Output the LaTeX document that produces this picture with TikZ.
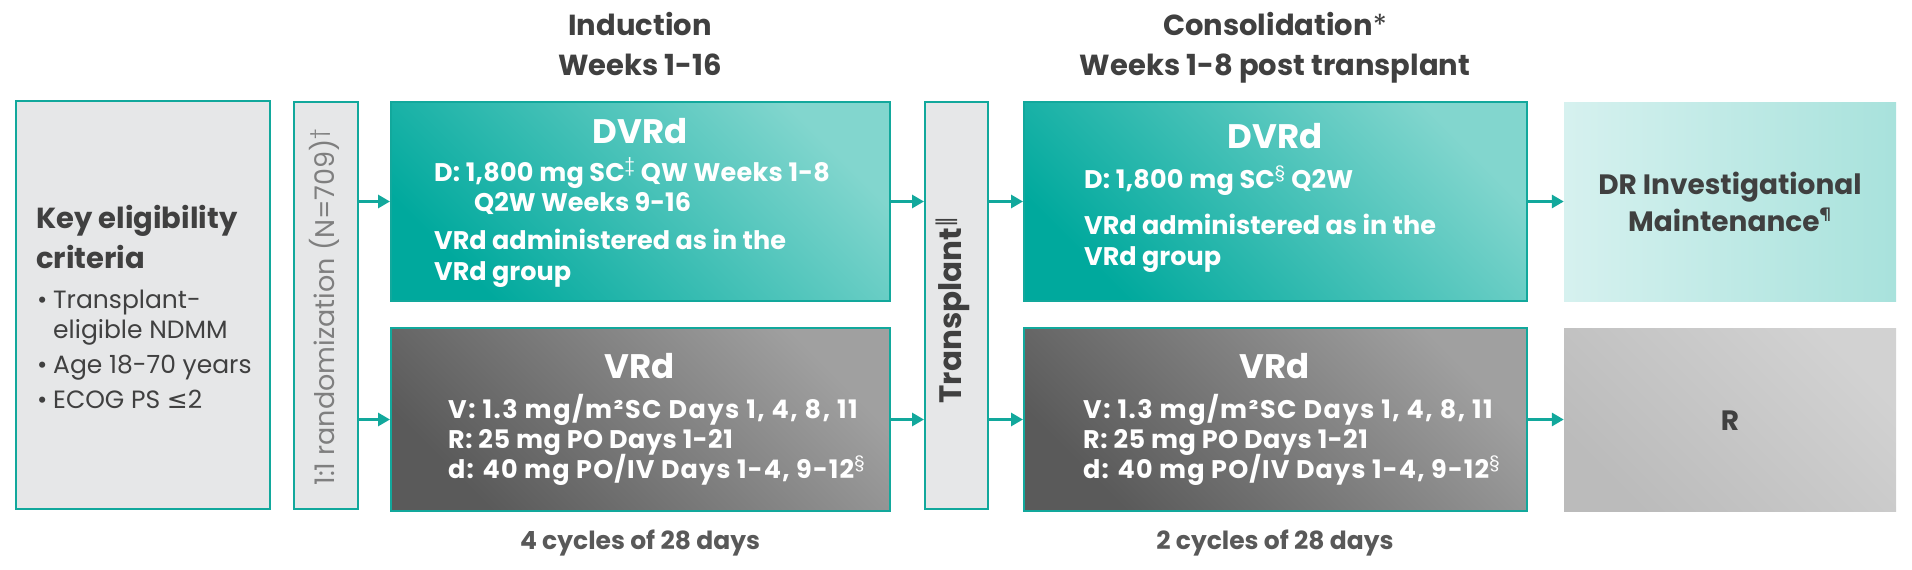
\documentclass[tikz,border=0pt]{standalone}
\usepackage{fontspec}
\setmainfont{Poppins}
\newfontfamily\symfont{DejaVu Sans}
\usetikzlibrary{arrows.meta}
\definecolor{tealc}{HTML}{12A89C}
\definecolor{keygray}{HTML}{E6E7E8}
\definecolor{txtdark}{HTML}{404040}
\definecolor{txtgray}{HTML}{595959}
\definecolor{randgray}{HTML}{7F7F7F}
\definecolor{tealdark}{HTML}{00A99D}
\definecolor{teallight}{HTML}{82D6CE}
\definecolor{graydark}{HTML}{5A5A5A}
\definecolor{graylight}{HTML}{A0A0A0}
\definecolor{mintleft}{HTML}{D6F1EF}
\definecolor{mintright}{HTML}{A8E2DC}
\definecolor{rdark}{HTML}{BBBBBB}
\definecolor{rlight}{HTML}{D2D2D2}
\newcommand\fnote[1]{\textsuperscript{\mdseries #1}}
\newcommand\fsz[1]{\fontsize{#1}{#1}\selectfont}
\newcommand\bodyfont[1]{\fsz{25.5}\bfseries\addfontfeature{LetterSpace=#1}}
\begin{document}
\begin{tikzpicture}[x=1pt,y=-1pt,
  box/.style={draw=tealc, line width=2pt, inner sep=0pt},
  plainbox/.style={inner sep=0pt},
  arr/.style={draw=tealc, line width=3pt, -{Triangle[length=12pt,width=13pt]}},
  header/.style={inner sep=0pt, anchor=base, text=txtdark, font=\fsz{29}\bfseries},
  title/.style={inner sep=0pt, anchor=base, text=white, font=\fsz{34}\bfseries},
  body/.style={inner sep=0pt, anchor=base west, text=white, font=\bodyfont{0}},
  keytitle/.style={inner sep=0pt, anchor=base west, text=txtdark, font=\fsz{29}\bfseries},
  bullet/.style={inner sep=0pt, anchor=base west, text=txtdark, font=\fsz{25}},
  cycles/.style={inner sep=0pt, anchor=base, text=txtgray, font=\fsz{25}\bfseries},
  maint/.style={inner sep=0pt, anchor=base, text=txtdark, font=\fsz{28}\bfseries}
]
\useasboundingbox (0,0) rectangle (1912,570);

% boxes
\node[box, fill=keygray, minimum width=254pt, minimum height=408pt] (key) at (143,305) {};
\node[box, fill=keygray, minimum width=64pt, minimum height=407pt] (rand) at (326,305.5) {};
\node[box, bottom color=tealdark, top color=teallight, shading angle=-45, minimum width=499pt, minimum height=199pt] (ind1) at (640.5,201.5) {};
\node[box, bottom color=graydark, top color=graylight, shading angle=-45, minimum width=499pt, minimum height=183pt] (ind2) at (640.5,419.5) {};
\node[box, fill=keygray, minimum width=63pt, minimum height=407pt] (tx) at (956.5,305.5) {};
\node[box, bottom color=tealdark, top color=teallight, shading angle=-45, minimum width=503pt, minimum height=199pt] (con1) at (1275.5,201.5) {};
\node[box, bottom color=graydark, top color=graylight, shading angle=-45, minimum width=503pt, minimum height=183pt] (con2) at (1275.5,419.5) {};
\node[plainbox, left color=mintleft, right color=mintright, minimum width=332pt, minimum height=199pt] (mbox) at (1730,201.5) {};
\node[plainbox, bottom color=rdark, top color=rlight, shading angle=-45, minimum width=332pt, minimum height=183pt] (rbox) at (1730,419.5) {};

% arrows
\draw[arr] (rand.east |- ind1.west) -- (ind1.west);
\draw[arr] (rand.east |- ind2.west) -- (ind2.west);
\draw[arr] (ind1.east) -- (tx.west |- ind1.east);
\draw[arr] (ind2.east) -- (tx.west |- ind2.east);
\draw[arr] (tx.east |- con1.west) -- (con1.west);
\draw[arr] (tx.east |- con2.west) -- (con2.west);
\draw[arr] (con1.east) -- (mbox.west);
\draw[arr] (con2.east) -- (rbox.west);

% headers
\node[header] (h1a) at (640,35) {Induction};
\node[header] (h1b) at (640,75) {Weeks 1-16};
\node[header] (h2a) at (1275,35) {Consolidation{\mdseries*}};
\node[header] (h2b) at (1275,75) {Weeks 1-8 post transplant};

% key eligibility
\node[keytitle] (k1) at (36,228) {Key eligibility};
\node[keytitle] (k2) at (36,268) {criteria};
\node[bullet] (b1) at (37,308) {•};
\node[bullet] (t1) at (53,308) {Transplant-};
\node[bullet] (t1b) at (53,338) {eligible NDMM};
\node[bullet] (b2) at (37,373) {•};
\node[bullet] (t2) at (53,373) {Age 18-70 years};
\node[bullet] (b3) at (37,408) {•};
\node[bullet] (t3) at (53,408) {ECOG PS {\symfont ≤}2};

% randomization and transplant
\node[inner sep=0pt, rotate=90, text=randgray, font=\fsz{27}] (rtext) at (324,307) {1:1 randomization (N=709)\fnote{†}};
\node[inner sep=0pt, rotate=90, text=txtdark, font=\fsz{31}\bfseries] (ttext) at (953,310) {Transplant\fnote{\symfont ‖}};

% induction DVRd
\node[title] (d1t) at (640,143) {DVRd};
\node[body, font=\bodyfont{1}] (d1a) at (434,181) {D: 1,800 mg SC\fnote{‡} QW Weeks 1-8};
\node[body] (d1b) at (474,211) {Q2W Weeks 9-16};
\node[body] (d1c) at (434,249) {VRd administered as in the};
\node[body] (d1d) at (434,280) {VRd group};

% induction VRd
\node[title] (v1t) at (640,378) {VRd};
\node[body, font=\bodyfont{6}] (v1a) at (448,418) {V: 1.3 mg/m²SC Days 1, 4, 8, 11};
\node[body, font=\bodyfont{2}] (v1b) at (448,448) {R: 25 mg PO Days 1-21};
\node[body, font=\bodyfont{4.5}] (v1c) at (448,478) {d: 40 mg PO/IV Days 1-4, 9-12\fnote{§}};
\node[cycles] (c1) at (640,549) {4 cycles of 28 days};

% consolidation DVRd
\node[title] (d2t) at (1275,148) {DVRd};
\node[body, font=\bodyfont{1}] (d2a) at (1084,188) {D: 1,800 mg SC\fnote{§} Q2W};
\node[body] (d2c) at (1084,234) {VRd administered as in the};
\node[body] (d2d) at (1084,265) {VRd group};

% consolidation VRd
\node[title] (v2t) at (1275,378) {VRd};
\node[body, font=\bodyfont{6}] (v2a) at (1083,418) {V: 1.3 mg/m²SC Days 1, 4, 8, 11};
\node[body, font=\bodyfont{2}] (v2b) at (1083,448) {R: 25 mg PO Days 1-21};
\node[body, font=\bodyfont{4.5}] (v2c) at (1083,478) {d: 40 mg PO/IV Days 1-4, 9-12\fnote{§}};
\node[cycles] (c2) at (1275,549) {2 cycles of 28 days};

% maintenance
\node[maint] (m1) at (1730,194) {DR Investigational};
\node[maint] (m2) at (1730,231) {Maintenance\fnote{¶}};
\node[maint] (r1) at (1730,430) {R};
\end{tikzpicture}
\end{document}
